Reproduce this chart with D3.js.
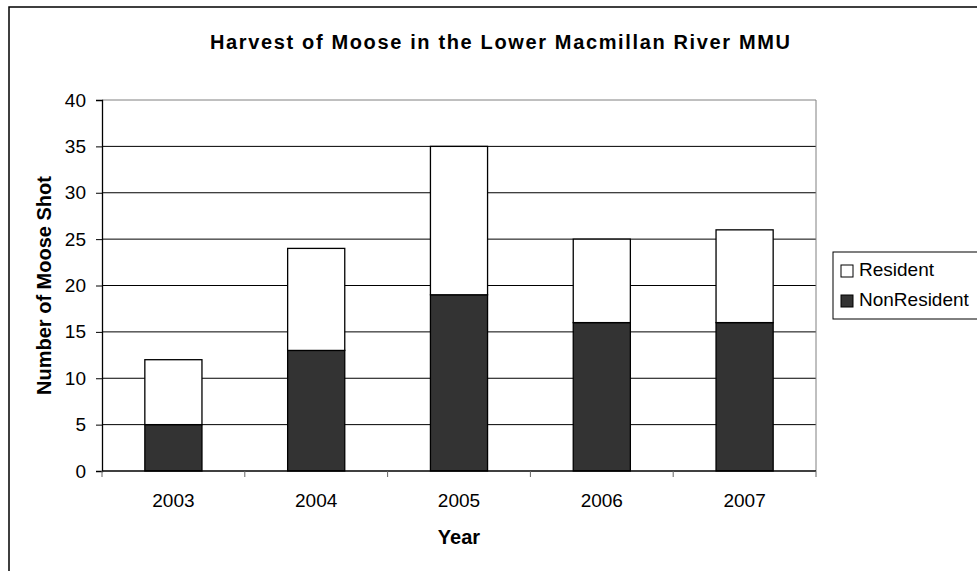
<!DOCTYPE html>
<html>
<head>
<meta charset="utf-8">
<script src="https://cdn.jsdelivr.net/npm/d3@7"></script>
<style>
  body { margin: 0; background: #fff; }
  svg { font-family: "Liberation Sans", Arial, sans-serif; }
</style>
</head>
<body>
<div id="chart"></div>
<script>
var years = ["2003", "2004", "2005", "2006", "2007"];
var nonResident = [5, 13, 19, 16, 16];
var resident = [7, 11, 16, 9, 10];
var seriesNames = ["NonResident", "Resident"];
var yTicks = [0, 5, 10, 15, 20, 25, 30, 35, 40];

var W = 977, H = 571;
var margin = {top: 100, right: 161, bottom: 100, left: 102},
    width = W - margin.left - margin.right,
    height = H - margin.top - margin.bottom;

var svg = d3.select("#chart")
  .append("svg")
    .attr("width", W)
    .attr("height", H);

// outer chart border (right/bottom fall off the picture)
svg.append("rect")
  .attr("x", 9).attr("y", 7)
  .attr("width", 980).attr("height", 580)
  .attr("fill", "none")
  .attr("stroke", "#000")
  .attr("stroke-width", 1.5);

svg.append("text")
  .attr("x", 500).attr("y", 49)
  .attr("text-anchor", "middle")
  .attr("font-size", "20px")
  .attr("font-weight", "bold")
  .attr("textLength", 580)
  .attr("lengthAdjust", "spacing")
  .text("Harvest of Moose in the Lower Macmillan River MMU");

var g = svg.append("g")
  .attr("transform", "translate(" + margin.left + "," + margin.top + ")");

var x = d3.scaleBand()
  .domain(years)
  .range([0, width])
  .paddingInner(0.6)
  .paddingOuter(0.3);

var xEdge = d3.scaleLinear().domain([0, years.length]).range([0, width]);

var y = d3.scaleLinear()
  .domain([0, 40])
  .range([height, 0]);

// gridlines
g.append("g")
  .selectAll("line")
  .data(yTicks.slice(1))
  .enter().append("line")
    .attr("x1", 0).attr("x2", width)
    .attr("y1", function(d) { return y(d); })
    .attr("y2", function(d) { return y(d); })
    .attr("stroke", function(d) { return d == 40 ? "#808080" : "#000"; })
    .attr("stroke-width", 1);

// right edge of plot area
g.append("line")
  .attr("x1", width).attr("x2", width)
  .attr("y1", 0).attr("y2", height)
  .attr("stroke", "#808080");

var stackData = years.map(function(yr, i) {
  return {year: yr, NonResident: nonResident[i], Resident: resident[i]};
});
var stack = d3.stack().keys(seriesNames)(stackData);
var colors = {NonResident: "#333333", Resident: "#ffffff"};

g.selectAll("g.layer")
  .data(stack)
  .enter().append("g")
    .attr("class", "layer")
    .attr("fill", function(d) { return colors[d.key]; })
  .selectAll("rect")
  .data(function(d) { return d; })
  .enter().append("rect")
    .attr("x", function(d) { return x(d.data.year); })
    .attr("y", function(d) { return y(d[1]); })
    .attr("width", x.bandwidth())
    .attr("height", function(d) { return y(d[0]) - y(d[1]); })
    .attr("stroke", "#000")
    .attr("stroke-width", 1.3);

// y axis
var yAxis = g.append("g")
  .call(d3.axisLeft(y).tickValues(yTicks).tickSize(6).tickPadding(10));
yAxis.select(".domain").attr("stroke", "#000").attr("stroke-width", 1.3);
yAxis.selectAll(".tick line").attr("stroke", "#000");
yAxis.selectAll("text").attr("font-size", "19px").attr("fill", "#000")
  .attr("font-family", "Liberation Sans, Arial, sans-serif");

// x axis: ticks on category boundaries
var xAxisG = g.append("g").attr("transform", "translate(0," + height + ")");
xAxisG.append("line")
  .attr("x1", 0).attr("x2", width)
  .attr("stroke", "#000").attr("stroke-width", 1.3);
xAxisG.selectAll("line.tk")
  .data(d3.range(years.length + 1))
  .enter().append("line")
    .attr("class", "tk")
    .attr("x1", function(d) { return xEdge(d); })
    .attr("x2", function(d) { return xEdge(d); })
    .attr("y1", 0).attr("y2", 6)
    .attr("stroke", "#666");
xAxisG.selectAll("text")
  .data(years)
  .enter().append("text")
    .attr("x", function(d) { return x(d) + x.bandwidth() / 2; })
    .attr("y", 36)
    .attr("text-anchor", "middle")
    .attr("font-size", "19px")
    .text(function(d) { return d; });

svg.append("text")
  .attr("x", margin.left + width / 2).attr("y", 544)
  .attr("text-anchor", "middle")
  .attr("font-size", "20px")
  .attr("font-weight", "bold")
  .text("Year");

svg.append("text")
  .attr("transform", "translate(51," + (margin.top + height / 2) + ") rotate(-90)")
  .attr("text-anchor", "middle")
  .attr("font-size", "20px")
  .attr("font-weight", "bold")
  .text("Number of Moose Shot");

// legend
var legend = svg.append("g").attr("transform", "translate(833,252)");
legend.append("rect")
  .attr("width", 150).attr("height", 67)
  .attr("fill", "#fff").attr("stroke", "#000");
var legendItems = ["Resident", "NonResident"];
legend.selectAll("g.item")
  .data(legendItems)
  .enter().append("g")
    .attr("class", "item")
    .attr("transform", function(d, i) { return "translate(8," + (13 + i * 30) + ")"; })
  .each(function(d) {
    var it = d3.select(this);
    it.append("rect")
      .attr("width", 12).attr("height", 12)
      .attr("fill", colors[d]).attr("stroke", "#000");
    it.append("text")
      .attr("x", 18).attr("y", 11)
      .attr("font-size", "19px")
      .text(d);
  });
</script>
</body>
</html>
